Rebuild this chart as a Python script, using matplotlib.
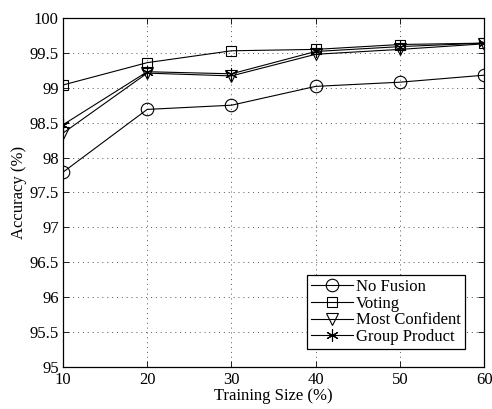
import matplotlib.pyplot as plt

plt.rcParams['font.family'] = ['Liberation Serif', 'DejaVu Serif']
plt.rcParams['font.size'] = 12

train_size = [10, 20, 30, 40, 50, 60]
no_fusion = [97.79, 98.69, 98.75, 99.02, 99.08, 99.18]
voting = [99.04, 99.36, 99.53, 99.55, 99.62, 99.64]
most_conf = [98.35, 99.21, 99.17, 99.48, 99.55, 99.63]
group_prod = [98.47, 99.23, 99.20, 99.52, 99.59, 99.64]

fig = plt.figure(figsize=(4.92, 4.09), dpi=100)
ax = fig.add_axes([0.128, 0.103, 0.856, 0.853])

ax.plot(train_size, no_fusion, color='black', lw=0.8, marker='o', ms=9, mfc='none', mec='black', mew=0.8, label='No Fusion')
ax.plot(train_size, voting, color='black', lw=0.8, marker='s', ms=7, mfc='none', mec='black', mew=0.8, label='Voting')
ax.plot(train_size, most_conf, color='black', lw=0.8, marker='v', ms=9, mfc='none', mec='black', mew=0.8, label='Most Confident')
ax.plot(train_size, group_prod, color='black', lw=0.8, marker=(6, 2, 0), ms=9, mec='black', mew=0.8, label='Group Product')

ax.set_xlim(10, 60)
ax.set_ylim(95, 100)
ax.set_xticks(train_size)
ax.set_yticks([95, 95.5, 96, 96.5, 97, 97.5, 98, 98.5, 99, 99.5, 100])
ax.set_yticklabels(['95', '95.5', '96', '96.5', '97', '97.5', '98', '98.5', '99', '99.5', '100'])
ax.tick_params(direction='in', length=4, width=0.6, top=True, right=True, labelsize=12)
ax.tick_params(axis='x', pad=4)
ax.tick_params(axis='y', pad=3)
ax.grid(color='#555555', linestyle=(0, (1, 4)), linewidth=0.7)
for s in ax.spines.values():
    s.set_linewidth(0.9)

ax.set_xlabel('Training Size (%)', fontsize=12, labelpad=0)
ax.set_ylabel('Accuracy (%)', fontsize=12, labelpad=2)

leg = ax.legend(loc='lower right', bbox_to_anchor=(0.955, 0.05), fancybox=False, edgecolor='black',
                framealpha=1, handlelength=2.5, borderpad=0.25, labelspacing=0.05, handletextpad=0.2,
                borderaxespad=0, fontsize=12)
leg.get_frame().set_linewidth(0.9)

fig.savefig('out.png', dpi=100)
